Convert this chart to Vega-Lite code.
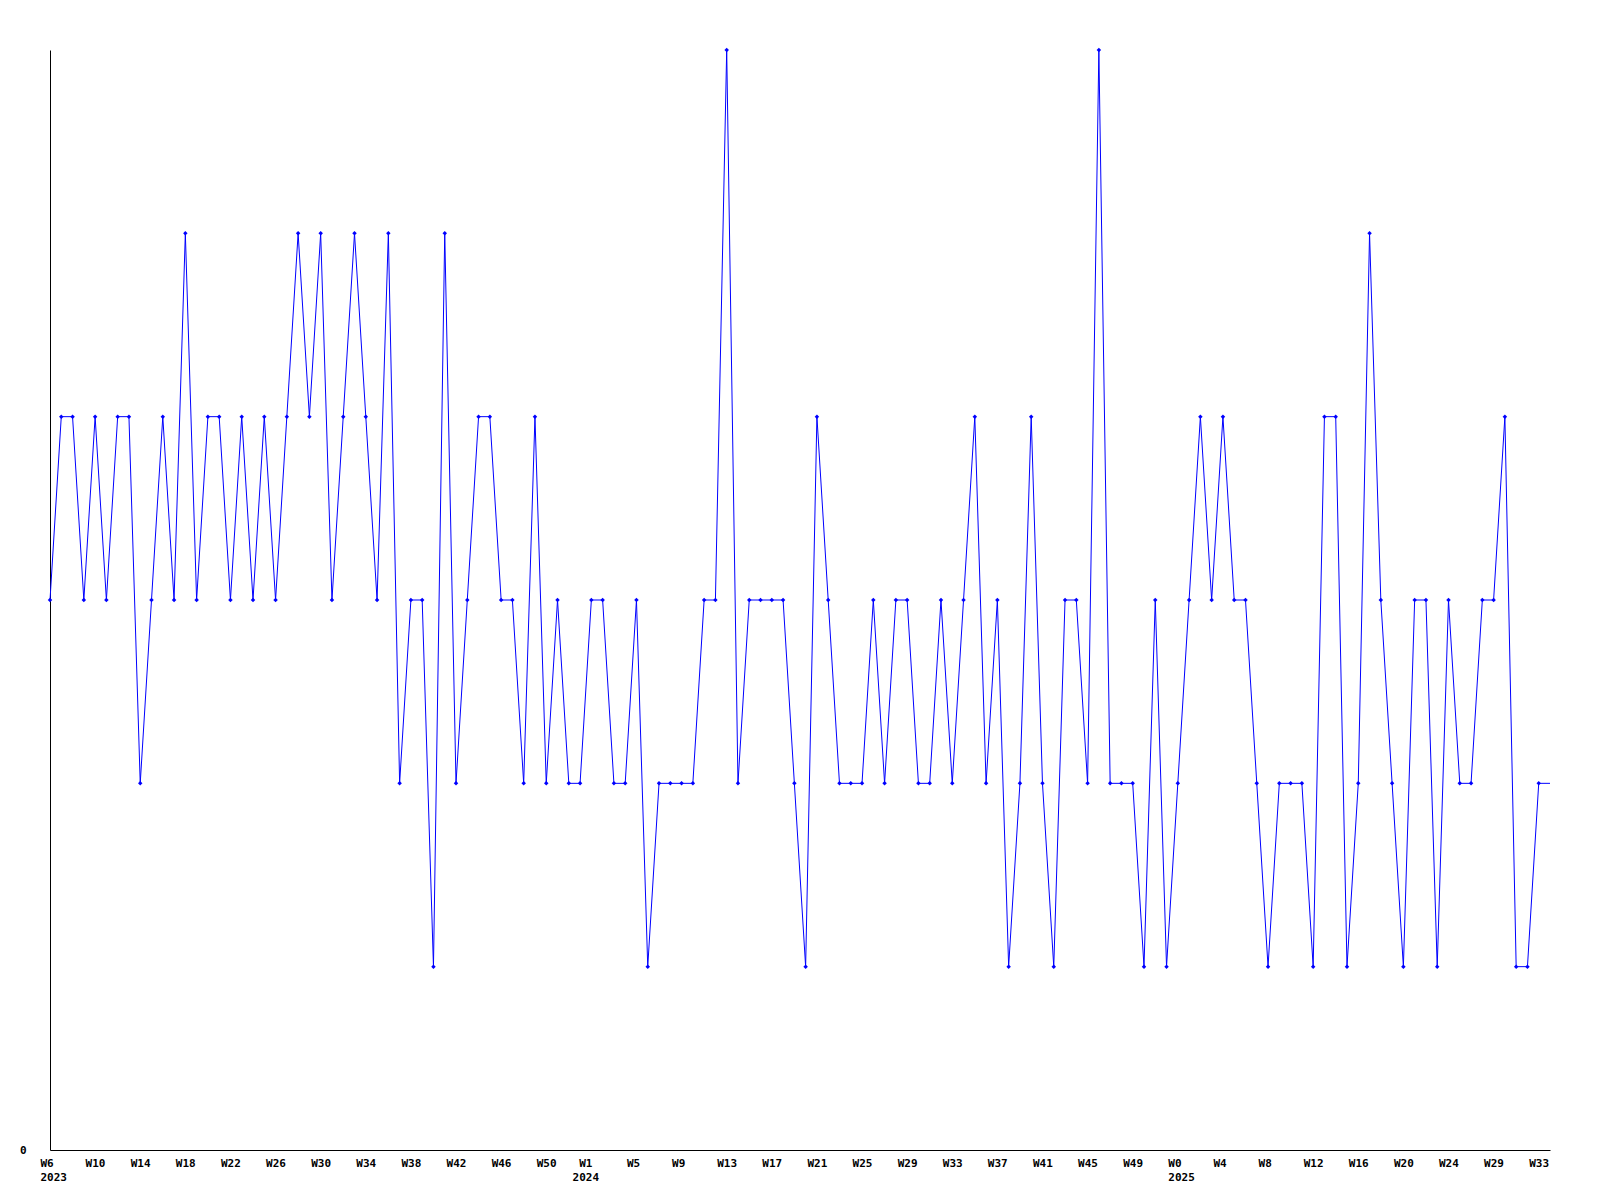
{
  "$schema": "https://vega.github.io/schema/vega-lite/v6.json",
  "width": 1500,
  "height": 1100,
  "autosize": {"type": "none"},
  "padding": {"left": 50, "top": 50, "right": 50, "bottom": 50},
  "background": "white",
  "config": {"view": {"stroke": null}},
  "data": {"values": [
    {"week":"2023-W06","v":3},{"week":"2023-W07","v":4},{"week":"2023-W08","v":4},{"week":"2023-W09","v":3},{"week":"2023-W10","v":4},{"week":"2023-W11","v":3},{"week":"2023-W12","v":4},{"week":"2023-W13","v":4},{"week":"2023-W14","v":2},{"week":"2023-W15","v":3},{"week":"2023-W16","v":4},{"week":"2023-W17","v":3},{"week":"2023-W18","v":5},{"week":"2023-W19","v":3},{"week":"2023-W20","v":4},{"week":"2023-W21","v":4},{"week":"2023-W22","v":3},{"week":"2023-W23","v":4},{"week":"2023-W24","v":3},{"week":"2023-W25","v":4},{"week":"2023-W26","v":3},{"week":"2023-W27","v":4},{"week":"2023-W28","v":5},
    {"week":"2023-W29","v":4},{"week":"2023-W30","v":5},{"week":"2023-W31","v":3},{"week":"2023-W32","v":4},{"week":"2023-W33","v":5},{"week":"2023-W34","v":4},{"week":"2023-W35","v":3},{"week":"2023-W36","v":5},{"week":"2023-W37","v":2},{"week":"2023-W38","v":3},{"week":"2023-W39","v":3},{"week":"2023-W40","v":1},{"week":"2023-W41","v":5},{"week":"2023-W42","v":2},{"week":"2023-W43","v":3},{"week":"2023-W44","v":4},{"week":"2023-W45","v":4},{"week":"2023-W46","v":3},{"week":"2023-W47","v":3},{"week":"2023-W48","v":2},{"week":"2023-W49","v":4},{"week":"2023-W50","v":2},
    {"week":"2023-W51","v":3},{"week":"2023-W52","v":2},{"week":"2023-W53","v":2},{"week":"2024-W01","v":3},{"week":"2024-W02","v":3},{"week":"2024-W03","v":2},{"week":"2024-W04","v":2},{"week":"2024-W05","v":3},{"week":"2024-W06","v":1},{"week":"2024-W07","v":2},{"week":"2024-W08","v":2},{"week":"2024-W09","v":2},{"week":"2024-W10","v":2},{"week":"2024-W11","v":3},{"week":"2024-W12","v":3},{"week":"2024-W13","v":6},{"week":"2024-W14","v":2},{"week":"2024-W15","v":3},{"week":"2024-W16","v":3},{"week":"2024-W17","v":3},{"week":"2024-W18","v":3},{"week":"2024-W19","v":2},
    {"week":"2024-W20","v":1},{"week":"2024-W21","v":4},{"week":"2024-W22","v":3},{"week":"2024-W23","v":2},{"week":"2024-W24","v":2},{"week":"2024-W25","v":2},{"week":"2024-W26","v":3},{"week":"2024-W27","v":2},{"week":"2024-W28","v":3},{"week":"2024-W29","v":3},{"week":"2024-W30","v":2},{"week":"2024-W31","v":2},{"week":"2024-W32","v":3},{"week":"2024-W33","v":2},{"week":"2024-W34","v":3},{"week":"2024-W35","v":4},{"week":"2024-W36","v":2},{"week":"2024-W37","v":3},{"week":"2024-W38","v":1},{"week":"2024-W39","v":2},{"week":"2024-W40","v":4},{"week":"2024-W41","v":2},
    {"week":"2024-W42","v":1},{"week":"2024-W43","v":3},{"week":"2024-W44","v":3},{"week":"2024-W45","v":2},{"week":"2024-W46","v":6},{"week":"2024-W47","v":2},{"week":"2024-W48","v":2},{"week":"2024-W49","v":2},{"week":"2024-W50","v":1},{"week":"2024-W51","v":3},{"week":"2024-W52","v":1},{"week":"2025-W00","v":2},{"week":"2025-W01","v":3},{"week":"2025-W02","v":4},{"week":"2025-W03","v":3},{"week":"2025-W04","v":4},{"week":"2025-W05","v":3},{"week":"2025-W06","v":3},{"week":"2025-W07","v":2},{"week":"2025-W08","v":1},{"week":"2025-W09","v":2},{"week":"2025-W10","v":2},
    {"week":"2025-W11","v":2},{"week":"2025-W12","v":1},{"week":"2025-W13","v":4},{"week":"2025-W14","v":4},{"week":"2025-W15","v":1},{"week":"2025-W16","v":2},{"week":"2025-W17","v":5},{"week":"2025-W18","v":3},{"week":"2025-W19","v":2},{"week":"2025-W20","v":1},{"week":"2025-W21","v":3},{"week":"2025-W22","v":3},{"week":"2025-W23","v":1},{"week":"2025-W24","v":3},{"week":"2025-W25","v":2},{"week":"2025-W26","v":2},{"week":"2025-W27","v":3},{"week":"2025-W29","v":3},{"week":"2025-W30","v":4},{"week":"2025-W31","v":1},{"week":"2025-W32","v":1},{"week":"2025-W33","v":2},
    {"week":"2025-W34","v":2}
  ]},
  "encoding": {
    "x": {
      "field": "week", "type": "ordinal",
      "scale": {"type": "point", "padding": 0},
      "axis": {
        "title": null,
        "values": ["2023-W06","2023-W10","2023-W14","2023-W18","2023-W22","2023-W26","2023-W30","2023-W34","2023-W38","2023-W42","2023-W46","2023-W50","2024-W01","2024-W05","2024-W09","2024-W13","2024-W17","2024-W21","2024-W25","2024-W29","2024-W33","2024-W37","2024-W41","2024-W45","2024-W49","2025-W00","2025-W04","2025-W08","2025-W12","2025-W16","2025-W20","2025-W24","2025-W29","2025-W33"],
        "labelExpr": "indexof(['2023-W06','2024-W01','2025-W00'], datum.value) >= 0 ? ['W' + toNumber(substring(datum.value, 6)), substring(datum.value, 0, 4)] : 'W' + toNumber(substring(datum.value, 6))",
        "labelAngle": 0,
        "labelAlign": {"condition": {"test": "datum.value == '2024-W01'", "value": "center"}, "value": "left"},
        "labelOffset": {"condition": {"test": "datum.value == '2024-W01'", "value": -6}, "value": -10},
        "labelFont": "DejaVu Sans Mono",
        "labelFontWeight": "bold",
        "labelFontSize": 11,
        "labelColor": "#000000",
        "labelPadding": 7,
        "labelLineHeight": 14,
        "labelOverlap": false,
        "labelBound": false,
        "labelFlush": false,
        "ticks": false,
        "grid": false,
        "domainColor": "#000000",
        "domainWidth": 1
      }
    },
    "y": {
      "field": "v", "type": "quantitative",
      "scale": {"domain": [0, 6], "nice": false, "zero": true},
      "axis": {
        "title": null,
        "values": [0],
        "ticks": false,
        "grid": false,
        "labelFont": "DejaVu Sans Mono",
        "labelFontWeight": "bold",
        "labelFontSize": 11,
        "labelColor": "#000000",
        "labelPadding": 24,
        "domainColor": "#000000",
        "domainWidth": 1
      }
    }
  },
  "layer": [
    {"mark": {"type": "line", "color": "#0000ff", "strokeWidth": 1, "interpolate": "linear"}},
    {
      "transform": [{"filter": "datum.week != '2025-W34'"}],
      "mark": {"type": "point", "shape": "diamond", "filled": true, "color": "#0000ff", "size": 20, "opacity": 1}
    }
  ]
}
